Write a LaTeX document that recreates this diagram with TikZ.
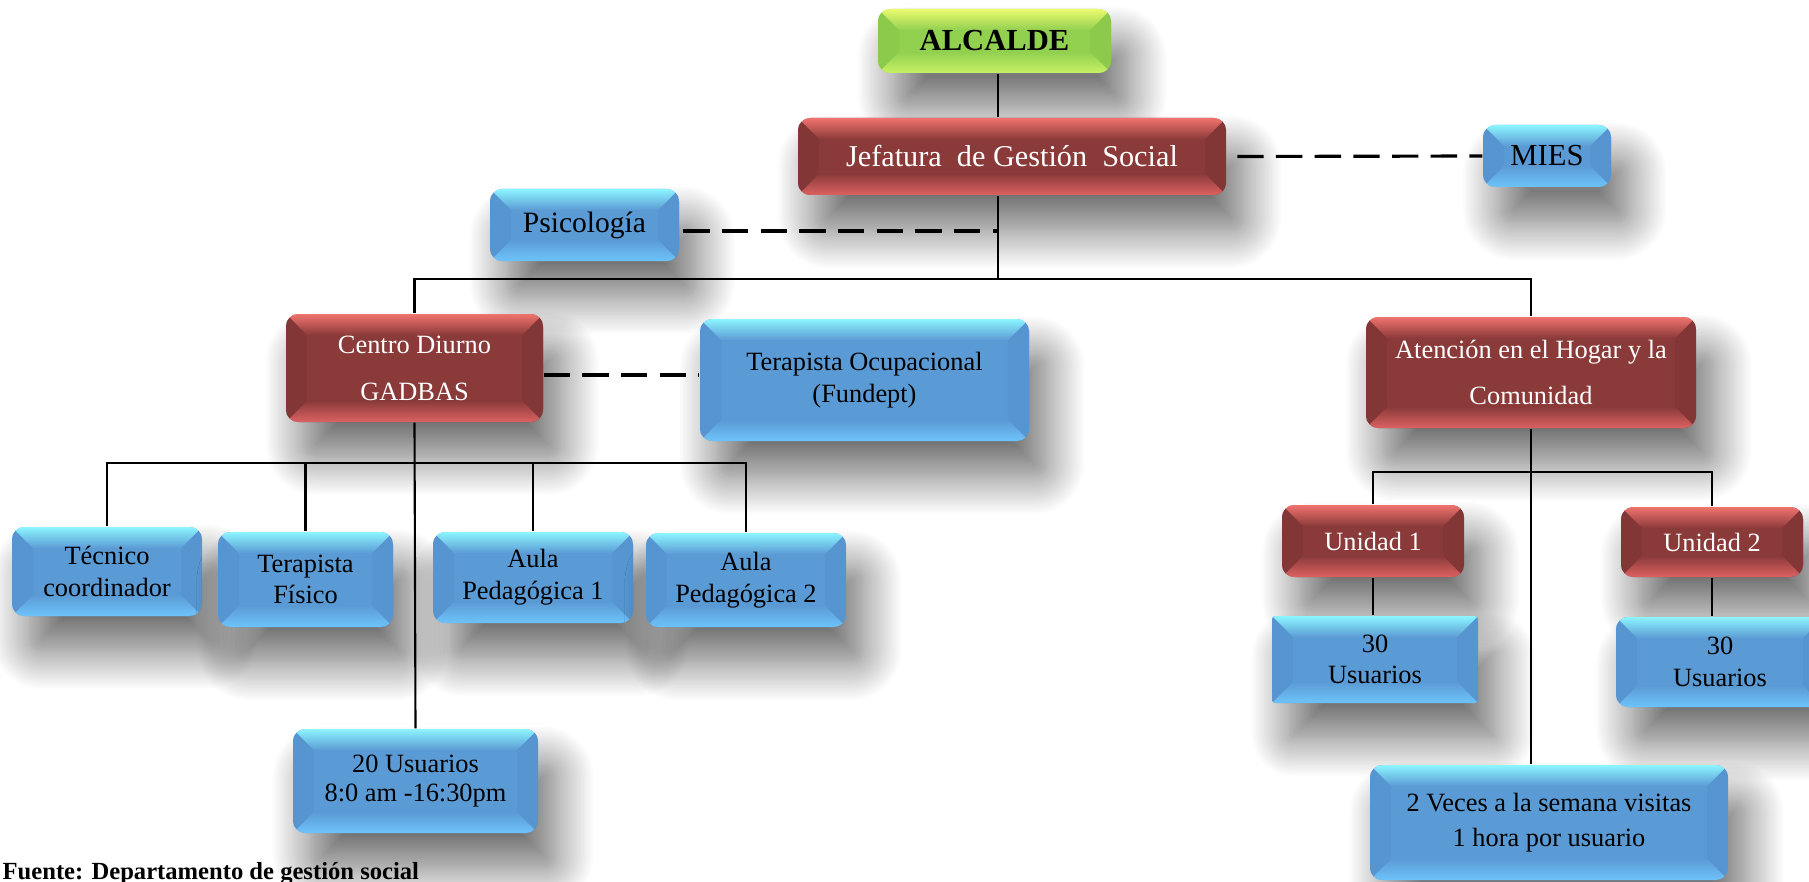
\documentclass[tikz,border=0pt]{standalone}
\usepackage{fontspec}
\setmainfont{Liberation Serif}
\usetikzlibrary{shadows.blur}
\definecolor{redbody}{RGB}{139,58,58}
\definecolor{redtop}{RGB}{240,115,110}
\definecolor{redbot}{RGB}{220,98,98}
\definecolor{redside}{RGB}{131,54,54}
\definecolor{bluebody}{RGB}{91,155,213}
\definecolor{bluetop}{RGB}{140,245,255}
\definecolor{bluebot}{RGB}{110,195,250}
\definecolor{blueside}{RGB}{86,149,208}
\definecolor{grnbody}{RGB}{146,208,80}
\definecolor{grntop}{RGB}{235,250,110}
\definecolor{grnbot}{RGB}{200,240,100}
\definecolor{grnside}{RGB}{140,202,76}
\tikzset{
  conn/.style={line width=0.6pt, black},
  dconn/.style={line width=0.9pt, black, dash pattern=on 7.5pt off 3.5pt},
  box/.style={rounded corners=3.5pt, inner sep=1pt, align=center,
    blur shadow={shadow xshift=5pt, shadow yshift=-10pt, shadow blur radius=11pt, shadow opacity=58, shadow blur steps=30},
    font=\fontsize{7.5}{9}\selectfont},
  sz/.style 2 args={minimum width=#1*0.01cm, minimum height=#2*0.01cm},
  bev/.style n args={4}{fill=#1, path picture={
    \path (path picture bounding box.north west) coordinate (bNW)
          (path picture bounding box.north east) coordinate (bNE)
          (path picture bounding box.south west) coordinate (bSW)
          (path picture bounding box.south east) coordinate (bSE);
    \fill[#4, sharp corners] (bNW) -- ([shift={(6pt,-6pt)}]bNW) -- ([shift={(6pt,6pt)}]bSW) -- (bSW) -- cycle;
    \fill[#4, sharp corners] (bNE) -- ([shift={(-6pt,-6pt)}]bNE) -- ([shift={(-6pt,6pt)}]bSE) -- (bSE) -- cycle;
    \shade[top color=#2, bottom color=#1, sharp corners] (bNW) -- (bNE) -- ([shift={(-6pt,-6pt)}]bNE) -- ([shift={(6pt,-6pt)}]bNW) -- cycle;
    \shade[top color=#1, bottom color=#3, sharp corners] (bSW) -- (bSE) -- ([shift={(-6pt,6pt)}]bSE) -- ([shift={(6pt,6pt)}]bSW) -- cycle;
  }},
  redb/.style={box, bev={redbody}{redtop}{redbot}{redside}, text=white},
  blueb/.style={box, bev={bluebody}{bluetop}{bluebot}{blueside}, text=black},
  grnb/.style={box, bev={grnbody}{grntop}{grnbot}{grnside}, text=black},
}
\begin{document}
\begin{tikzpicture}[x=0.01cm, y=-0.01cm]
\useasboundingbox (0,0) rectangle (1809,882);

\node[grnb, sz={233}{64}, font=\bfseries\fontsize{8.7}{10}\selectfont] (alc) at (994.5,41) {ALCALDE};
\node[redb, sz={428}{77}, font=\fontsize{8.6}{10}\selectfont] (jef) at (1012,156.5) {Jefatura~ de Gestión~ Social};
\node[blueb, sz={128}{62}, font=\fontsize{8.7}{10}\selectfont] (mies) at (1547,156) {MIES};
\node[blueb, sz={189}{72}, font=\fontsize{8.4}{10}\selectfont] (psi) at (584.5,225) {Psicología};
\node[redb, sz={257}{108}, font=\fontsize{7.5}{13.4}\selectfont] (cd) at (414.5,368) {Centro Diurno\\GADBAS};
\node[blueb, sz={329}{122}] (to) at (864.5,380) {Terapista Ocupacional\\(Fundept)};
\node[redb, sz={330}{111}, font=\fontsize{7.5}{13}\selectfont] (at) at (1531,372.5) {Atención en el Hogar y la\\Comunidad};
\node[blueb, sz={190}{89}] (tec) at (107,571.5) {Técnico\\coordinador};
\node[blueb, sz={175}{95}] (tf) at (305.5,579.5) {Terapista\\Físico};
\node[blueb, sz={200}{91}] (a1) at (533,577.5) {Aula\\Pedagógica 1};
\node[blueb, sz={200}{94}] (a2) at (746,580) {Aula\\Pedagógica 2};
\node[blueb, sz={245}{104}, font=\fontsize{7.5}{8.2}\selectfont] (u20) at (415.5,781) {20 Usuarios\\8:0 am -16:30pm};
\node[redb, sz={182}{72}] (un1) at (1373,541) {Unidad 1};
\node[redb, sz={182}{70}] (un2) at (1712,542) {Unidad 2};
\node[blueb, sz={206}{87}, rounded corners=1pt] (u30a) at (1375,659.5) {30\\Usuarios};
\node[blueb, sz={208}{90}] (u30b) at (1720,662) {30\\Usuarios};
\node[blueb, sz={358}{115}, font=\fontsize{7.5}{10}\selectfont] (vis) at (1549,822.5) {2 Veces a la semana visitas\\1 hora por usuario};
\node[anchor=base west, font=\bfseries\fontsize{7}{8}\selectfont, inner sep=0pt] (src) at (2,879) {Fuente: Departamento de gestión social};

\coordinate (t1) at (998,279);
\coordinate (pj) at (998,231);
\coordinate (h2) at (415,463);
\coordinate (h3) at (1532,472);
\coordinate (d2) at (0,375);

\draw[conn] (alc.south -| t1) -- (jef.north -| t1);
\draw[conn] (jef.south -| t1) -- (t1);
\draw[dconn] ([xshift=3pt]jef.east) -- (mies.west);
\draw[dconn] ([xshift=1pt]psi.east |- pj) -- (pj);
\draw[conn] (cd.north) |- (t1) -| (at.north);
\draw[dconn] (cd.east |- d2) -- (to.west |- d2);
\draw[conn] (cd.south) -- (u20.north);
\draw[conn] (tec.north) |- (h2) -| (a2.north);
\draw[conn] (tf.north) -- (tf.north |- h2);
\draw[conn] (a1.north) -- (a1.north |- h2);
\draw[conn] (at.south) -- (at.south |- vis.north);
\draw[conn] (un1.north) |- (h3) -| (un2.north);
\draw[conn] (un1.south) -- (un1.south |- u30a.north);
\draw[conn] (un2.south) -- (un2.south |- u30b.north);
\end{tikzpicture}
\end{document}
